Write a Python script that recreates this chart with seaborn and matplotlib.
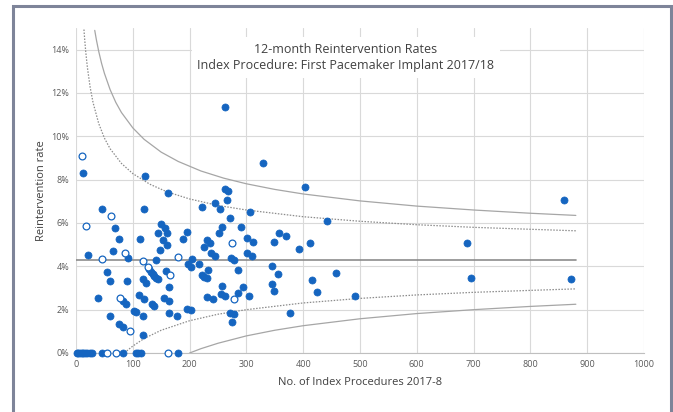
import pandas as pd
import numpy as np
import matplotlib as mpl
import matplotlib.pyplot as plt
import seaborn as sns

# 기관별 시술 건수(x)와 12개월 재시술률(%, y) - 채워진 점
filled_x = [1, 4, 7, 10, 13, 16, 20, 24, 28, 45, 82, 105, 109, 114, 180,
            12, 22, 39, 45, 54, 60, 60, 65, 69, 75, 76, 82, 82, 88, 90, 91,
            102, 106, 111, 113, 118, 118, 118, 120, 120, 122, 124, 129, 132, 133,
            135, 138, 138, 140, 141, 144, 145, 148, 150, 153, 155, 156, 158, 160,
            161, 162, 163, 164, 164, 177, 189, 195, 196, 198, 202, 202, 204, 217,
            222, 222, 225, 226, 230, 230, 231, 233, 236, 238, 241, 244, 245, 252,
            254, 256, 257, 257, 263, 263, 263, 267, 266, 271, 272, 273, 275, 278,
            279, 285, 286, 291, 294, 301, 301, 304, 306, 311, 310, 329, 345, 345,
            349, 349, 356, 357, 369, 377, 392, 404, 412, 415, 425, 442, 458, 491,
            689, 695, 860, 872]
filled_y = [0, 0, 0, 0, 0, 0, 0, 0, 0, 0, 0, 0, 0, 0, 0,
            8.30, 4.54, 2.56, 6.65, 3.76, 3.32, 1.70, 4.70, 5.78, 1.33, 5.25, 1.22, 2.39, 2.24, 3.33, 4.39,
            1.93, 1.88, 2.68, 5.24, 0.85, 1.70, 3.40, 2.48, 6.64, 8.18, 3.22, 3.86, 3.76, 2.27,
            3.65, 3.55, 2.16, 4.29, 3.46, 5.55, 3.40, 4.74, 5.96, 5.23, 2.56, 5.78, 3.80, 4.97,
            5.55, 7.39, 1.84, 2.41, 3.03, 1.70, 5.26, 5.59, 2.04, 4.11, 3.95, 1.99, 4.36, 4.12,
            6.72, 3.59, 4.89, 3.51, 3.46, 5.21, 2.59, 3.84, 5.08, 4.62, 2.48, 4.50, 6.93, 5.54,
            6.65, 2.72, 3.09, 5.81, 7.58, 2.65, 11.37, 7.47, 7.08, 1.85, 6.24, 4.38, 1.45, 4.29,
            1.80, 2.78, 3.85, 5.81, 3.04, 5.30, 4.62, 2.62, 6.51, 5.11, 4.50, 8.76, 4.02, 3.17,
            5.14, 2.85, 3.64, 5.56, 5.38, 1.85, 4.82, 7.65, 5.09, 3.36, 2.80, 6.09, 3.68, 2.64,
            5.06, 3.45, 7.07, 3.42]

# 빈 점
open_x = [55, 70, 162, 11, 17, 46, 62, 77, 86, 95, 118, 126, 165, 179, 274, 278]
open_y = [0, 0, 0, 9.07, 5.85, 4.33, 6.33, 2.56, 4.63, 1.03, 4.24, 3.99, 3.62, 4.45, 5.09, 2.50]

# 평균선
mean_x = [0, 880]
mean_y = [4.3, 4.3]

# 관리한계선
up998_n = [33, 36, 40, 45, 50, 60, 70, 80, 100, 120, 150, 180, 220, 260, 300, 350, 400, 500, 600, 700, 800, 880]
up998_y = [14.89, 14.44, 13.92, 13.37, 12.91, 12.16, 11.57, 11.10, 10.39, 9.86, 9.27, 8.84, 8.40, 8.07,
           7.81, 7.55, 7.34, 7.02, 6.78, 6.60, 6.45, 6.35]
up95_n = [14, 15, 17, 20, 25, 30, 40, 50, 60, 80, 100, 130, 160, 200, 250, 300, 400, 500, 600, 700, 800, 880]
up95_y = [14.93, 14.57, 13.94, 13.19, 12.25, 11.56, 10.59, 9.92, 9.43, 8.75, 8.28, 7.79, 7.44, 7.11,
          6.81, 6.60, 6.29, 6.08, 5.92, 5.80, 5.71, 5.64]
lo95_n = [85.5, 90, 100, 120, 150, 200, 250, 300, 400, 500, 600, 700, 800, 880]
lo95_y = [0.00, 0.11, 0.32, 0.67, 1.05, 1.49, 1.79, 2.00, 2.31, 2.52, 2.68, 2.80, 2.89, 2.96]
lo998_n = [200, 220, 250, 300, 350, 400, 500, 600, 700, 800, 880]
lo998_y = [0.00, 0.20, 0.45, 0.79, 1.05, 1.26, 1.58, 1.82, 2.00, 2.15, 2.25]

sns.set_style('white')
plt.rcParams['font.family'] = ['Open Sans', 'DejaVu Sans']

fig = plt.figure(figsize=(6.73, 4.12), dpi=100)
ax = fig.add_axes([76 / 673, 1 - 353 / 412, (644 - 76) / 673, (353 - 28) / 412])

line_c = '#A6A6A6'
sns.lineplot(x=up998_n, y=up998_y, ax=ax, color=line_c, lw=0.9, estimator=None, sort=False, zorder=2)
sns.lineplot(x=lo998_n, y=lo998_y, ax=ax, color=line_c, lw=0.9, estimator=None, sort=False, zorder=2)
sns.lineplot(x=up95_n, y=up95_y, ax=ax, color='#8C8C8C', lw=0.9, ls=(0, (1.2, 1.2)), estimator=None, sort=False, zorder=2)
sns.lineplot(x=lo95_n, y=lo95_y, ax=ax, color='#8C8C8C', lw=0.9, ls=(0, (1.2, 1.2)), estimator=None, sort=False, zorder=2)
sns.lineplot(x=mean_x, y=mean_y, ax=ax, color='#8C8C8C', lw=1.2, estimator=None, zorder=2)

blue = '#1565C0'
sns.scatterplot(x=filled_x, y=filled_y, ax=ax, color=blue, s=26, edgecolor=blue, linewidth=0.5, zorder=4, clip_on=False)
sns.scatterplot(x=open_x, y=open_y, ax=ax, color='white', s=24, edgecolor=blue, linewidth=0.9, zorder=4, clip_on=False)

ax.set_xlim(0, 1000)
ax.set_ylim(0, 15)
ax.set_xticks(range(0, 1001, 100))
ax.set_yticks(range(0, 15, 2))
ax.set_yticklabels([f'{v}%' for v in range(0, 15, 2)])
ax.grid(True, color='#D9D9D9', lw=0.8)
ax.set_axisbelow(True)
for s in ['top', 'right', 'left']:
    ax.spines[s].set_visible(False)
ax.spines['bottom'].set_color('#BFBFBF')
ax.tick_params(axis='both', length=0, labelsize=6.5, colors='#595959', pad=5)

ax.set_xlabel('No. of Index Procedures 2017-8', fontsize=8, color='#404040', labelpad=6)
ax.set_ylabel('Reintervention rate', fontsize=8, color='#404040', labelpad=3)

# 제목 (흰 배경 박스)
ax.text(0.475, 0.955, '12-month Reintervention Rates\nIndex Procedure: First Pacemaker Implant 2017/18',
        transform=ax.transAxes, ha='center', va='top', fontsize=9, color='#404040', linespacing=1.35,
        bbox=dict(facecolor='white', edgecolor='none', pad=4), zorder=5)

# 바깥 테두리
fig.patches.append(mpl.patches.Rectangle((12.5 / 673, -0.05), (670.5 - 12.5) / 673, 1 - 5.5 / 412 + 0.05,
                                         transform=fig.transFigure, fill=False, edgecolor='#7E8499', lw=2.2))

fig.savefig('out.png', dpi=100)
